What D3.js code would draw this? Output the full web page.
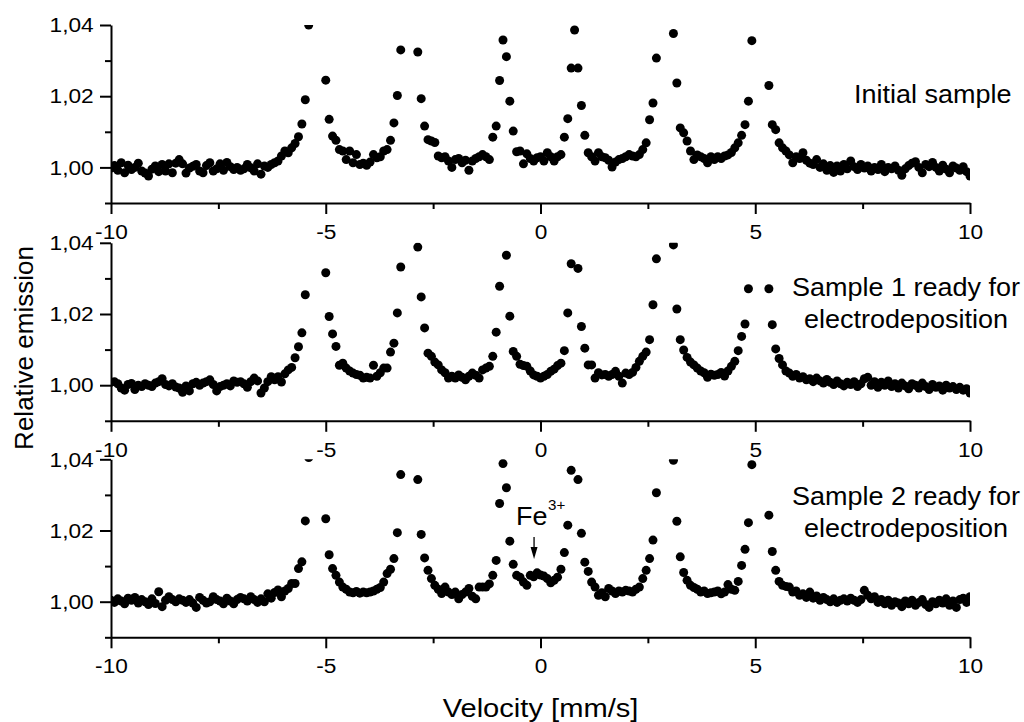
<!DOCTYPE html>
<html>
<head>
<meta charset="utf-8">
<script src="https://cdn.jsdelivr.net/npm/d3@7"></script>
<style>
  body { margin: 0; background: #fff; }
  svg { display: block; font-family: "Liberation Sans", Arial, sans-serif; }
</style>
</head>
<body>
<svg id="chart" width="1024" height="722"></svg>
<script>
// channel grid of the spectrometer (mm/s)
const velocityStart = -10, velocityStep = 20 / 252;

const initialSample = [
  0.9998,1.0005,0.9992,1.0013,0.9985,1.0006,0.9994,1.0000,1.0012,0.9990,
  0.9984,0.9976,0.9995,1.0004,0.9988,1.0008,0.9990,1.0010,0.9985,1.0012,
  1.0022,1.0010,0.9984,0.9998,1.0003,1.0008,0.9990,0.9985,1.0005,1.0013,
  0.9990,0.9996,1.0010,0.9992,1.0014,1.0002,0.9994,1.0000,0.9992,0.9996,
  1.0008,0.9999,0.9990,1.0010,0.9981,1.0004,1.0000,1.0008,1.0013,1.0018,
  1.0032,1.0046,1.0041,1.0055,1.0067,1.0086,1.0122,1.0190,1.0400,1.0520,
  1.0620,1.0600,1.0500,1.0245,1.0135,1.0088,1.0076,1.0050,1.0046,1.0022,
  1.0046,1.0013,1.0036,1.0008,1.0012,1.0006,1.0015,1.0036,1.0027,1.0030,
  1.0046,1.0050,1.0076,1.0125,1.0202,1.0330,1.0480,1.0580,1.0570,1.0470,
  1.0324,1.0193,1.0116,1.0078,1.0074,1.0070,1.0032,1.0027,1.0030,1.0018,
  1.0000,1.0022,1.0025,1.0013,1.0020,0.9992,1.0018,1.0025,1.0030,1.0036,
  1.0030,1.0022,1.0085,1.0116,1.0244,1.0358,1.0311,1.0186,1.0102,1.0044,
  1.0046,1.0010,1.0038,1.0025,1.0018,1.0027,1.0030,1.0018,1.0041,1.0030,
  1.0018,1.0030,1.0036,1.0085,1.0137,1.0279,1.0386,1.0279,1.0174,1.0090,
  1.0041,1.0030,1.0018,1.0041,1.0030,1.0027,1.0020,1.0001,1.0015,1.0022,
  1.0025,1.0030,1.0036,1.0032,1.0030,1.0036,1.0050,1.0069,1.0134,1.0181,
  1.0307,1.0500,1.0600,1.0580,1.0460,1.0376,1.0237,1.0111,1.0097,1.0074,
  1.0046,1.0022,1.0035,1.0030,1.0025,1.0013,1.0030,1.0022,1.0030,1.0025,
  1.0032,1.0035,1.0042,1.0055,1.0069,1.0090,1.0120,1.0186,1.0356,1.0520,
  1.0600,1.0560,1.0440,1.0230,1.0120,1.0106,1.0069,1.0055,1.0046,1.0035,
  1.0013,1.0030,1.0025,1.0041,1.0020,1.0012,1.0008,1.0022,1.0000,1.0010,
  0.9992,1.0005,0.9986,1.0004,0.9990,1.0008,0.9996,1.0018,1.0002,0.9994,
  1.0008,0.9998,1.0004,0.9990,1.0000,0.9994,1.0008,0.9988,1.0000,0.9996,
  1.0004,0.9992,0.9978,0.9996,1.0005,1.0012,1.0016,1.0000,0.9985,1.0008,
  1.0002,1.0014,1.0000,0.9990,1.0006,0.9995,0.9985,1.0004,0.9998,0.9992,
  1.0002,0.9988,0.9976
];

const sample1 = [
  1.0008,1.0010,1.0004,0.9992,0.9986,1.0002,1.0005,0.9988,1.0000,0.9996,
  1.0004,1.0000,0.9996,1.0006,1.0010,1.0018,1.0002,0.9998,1.0004,0.9995,
  0.9992,0.9980,0.9998,0.9984,1.0004,1.0008,1.0000,1.0006,1.0010,1.0015,
  1.0002,0.9984,0.9996,1.0000,1.0004,0.9998,1.0012,1.0008,1.0010,1.0004,
  0.9994,1.0010,1.0020,1.0012,0.9978,0.9992,1.0010,1.0024,1.0015,1.0024,
  1.0009,1.0032,1.0043,1.0050,1.0077,1.0108,1.0147,1.0254,1.0450,1.0560,
  1.0620,1.0590,1.0480,1.0316,1.0193,1.0144,1.0109,1.0056,1.0062,1.0048,
  1.0040,1.0034,1.0030,1.0028,1.0020,1.0022,1.0020,1.0056,1.0025,1.0035,
  1.0048,1.0048,1.0093,1.0118,1.0203,1.0332,1.0500,1.0600,1.0610,1.0520,
  1.0388,1.0248,1.0161,1.0090,1.0081,1.0065,1.0057,1.0043,1.0035,1.0020,
  1.0025,1.0020,1.0029,1.0022,1.0015,1.0025,1.0034,1.0028,1.0020,1.0043,
  1.0048,1.0053,1.0081,1.0149,1.0278,1.0460,1.0365,1.0194,1.0095,1.0081,
  1.0059,1.0055,1.0053,1.0040,1.0029,1.0025,1.0020,1.0025,1.0030,1.0039,
  1.0045,1.0055,1.0062,1.0097,1.0203,1.0341,1.0470,1.0328,1.0165,1.0104,
  1.0057,1.0057,1.0020,1.0035,1.0029,1.0030,1.0025,1.0030,1.0039,1.0025,
  1.0006,1.0034,1.0030,1.0036,1.0050,1.0067,1.0081,1.0093,1.0128,1.0226,
  1.0355,1.0520,1.0620,1.0600,1.0480,1.0394,1.0214,1.0128,1.0099,1.0078,
  1.0065,1.0057,1.0048,1.0040,1.0035,1.0022,1.0031,1.0028,1.0030,1.0036,
  1.0026,1.0040,1.0053,1.0067,1.0097,1.0137,1.0172,1.0271,1.0450,1.0560,
  1.0620,1.0560,1.0440,1.0271,1.0170,1.0102,1.0075,1.0057,1.0040,1.0034,
  1.0025,1.0030,1.0020,1.0024,1.0015,1.0018,1.0010,1.0020,1.0012,1.0006,
  1.0016,1.0008,1.0002,1.0012,1.0004,0.9998,1.0008,1.0002,1.0010,0.9996,
  1.0004,1.0018,1.0022,1.0000,1.0010,0.9994,1.0008,1.0000,1.0012,0.9996,
  1.0004,0.9992,1.0006,0.9998,0.9990,1.0004,1.0000,0.9992,1.0006,0.9996,
  0.9988,1.0002,0.9994,0.9998,0.9986,1.0000,0.9992,0.9996,0.9988,0.9994,
  0.9986,0.9990,0.9978
];

const sample2 = [
  1.0004,0.9998,1.0008,1.0002,0.9994,1.0010,1.0004,1.0012,0.9996,1.0006,
  1.0000,0.9992,1.0008,0.9995,1.0028,0.9986,1.0004,1.0014,1.0006,1.0000,
  1.0008,1.0004,0.9998,1.0006,0.9996,0.9984,1.0012,1.0004,0.9996,1.0000,
  1.0014,1.0006,1.0002,0.9994,1.0010,1.0002,0.9994,1.0006,1.0012,1.0008,
  1.0002,1.0014,1.0006,0.9998,1.0008,1.0000,1.0022,1.0010,1.0026,1.0033,
  1.0014,1.0030,1.0037,1.0051,1.0051,1.0093,1.0112,1.0227,1.0405,1.0520,
  1.0580,1.0560,1.0450,1.0233,1.0132,1.0093,1.0074,1.0055,1.0041,1.0035,
  1.0027,1.0025,1.0029,1.0024,1.0027,1.0025,1.0027,1.0030,1.0035,1.0040,
  1.0055,1.0079,1.0091,1.0121,1.0194,1.0357,1.0520,1.0620,1.0600,1.0500,
  1.0343,1.0189,1.0123,1.0088,1.0065,1.0046,1.0035,1.0023,1.0041,1.0027,
  1.0020,1.0027,1.0008,1.0020,1.0027,1.0037,1.0015,1.0008,1.0041,1.0041,
  1.0041,1.0050,1.0074,1.0116,1.0276,1.0388,1.0320,1.0170,1.0105,1.0074,
  1.0069,1.0055,1.0046,1.0074,1.0070,1.0081,1.0075,1.0072,1.0065,1.0053,
  1.0060,1.0069,1.0091,1.0138,1.0215,1.0369,1.0480,1.0343,1.0192,1.0111,
  1.0085,1.0055,1.0041,1.0018,1.0025,1.0014,1.0037,1.0030,1.0023,1.0030,
  1.0027,1.0032,1.0030,1.0027,1.0035,1.0041,1.0065,1.0088,1.0121,1.0173,
  1.0306,1.0500,1.0600,1.0600,1.0490,1.0397,1.0226,1.0126,1.0082,1.0060,
  1.0046,1.0040,1.0035,1.0027,1.0030,1.0023,1.0025,1.0027,1.0030,1.0022,
  1.0027,1.0048,1.0035,1.0032,1.0057,1.0102,1.0147,1.0222,1.0385,1.0540,
  1.0620,1.0580,1.0460,1.0243,1.0141,1.0088,1.0057,1.0046,1.0043,1.0041,
  1.0027,1.0030,1.0018,1.0022,1.0012,1.0027,1.0010,1.0016,1.0004,1.0012,
  1.0006,1.0000,1.0008,0.9998,1.0004,1.0008,1.0002,1.0010,1.0004,0.9998,
  1.0006,1.0032,1.0018,1.0008,1.0014,0.9998,1.0006,0.9994,1.0004,0.9990,
  1.0000,0.9996,0.9986,1.0002,0.9994,1.0004,0.9990,0.9998,1.0006,0.9992,
  0.9984,1.0000,0.9994,1.0004,0.9996,1.0008,0.9990,1.0002,0.9984,1.0006,
  1.0010,0.9998,1.0014
];

const spectra = [initialSample, sample1, sample2];
const panelLabels = [
  ["Initial sample"],
  ["Sample 1 ready for", "electrodeposition"],
  ["Sample 2 ready for", "electrodeposition"]
];
const xMajorTicks = [-10, -5, 0, 5, 10];
const xMinorTicks = [-7.5, -2.5, 2.5, 7.5];
const yMajorTicks = [1.00, 1.02, 1.04];
const yMinorTicks = [0.99, 1.01, 1.03];
const yDomain = [0.99, 1.04];

// layout
const left = 111, right = 970, panelHeight = 178;
const panelTops = [25, 242.8, 459.3];
const stretch = 1.08;   // glyphs in the original are a bit wide

const svg = d3.select("#chart");
const xScale = d3.scaleLinear().domain([-10, 10]).range([left, right]);
const commaFmt = d => d3.format(".2f")(d).replace(".", ",");
const plainFmt = d => String(d);   // keeps the ASCII hyphen for negatives

function styleAxis(g) {
  g.selectAll("path, line").attr("stroke", "#000").attr("stroke-width", 2);
  g.selectAll("text")
    .attr("fill", "#000")
    .style("font-size", "21px")
    .style("font-family", '"Liberation Sans", Arial, sans-serif');
}

function addText(x, y, str, size, anchor) {
  return svg.append("text")
    .attr("transform", `translate(${x},${y}) scale(${stretch},1)`)
    .attr("text-anchor", anchor || "start")
    .style("font-size", size + "px")
    .attr("fill", "#000")
    .text(str);
}

spectra.forEach((values, p) => {
  const top = panelTops[p];
  const bottom = top + panelHeight;
  const yScale = d3.scaleLinear().domain(yDomain).range([bottom, top]);

  svg.append("clipPath").attr("id", "clip" + p)
    .append("rect")
    .attr("x", left).attr("y", top)
    .attr("width", right - left).attr("height", panelHeight);

  const points = values.map((y, i) => ({ v: velocityStart + i * velocityStep, y }));

  svg.append("g").attr("clip-path", `url(#clip${p})`)
    .selectAll("circle").data(points).enter()
    .append("circle")
    .attr("cx", d => xScale(d.v))
    .attr("cy", d => yScale(d.y))
    .attr("r", 4.5)
    .attr("fill", "#000");

  // x axis
  const xg = svg.append("g").attr("transform", `translate(0,${bottom})`)
    .call(d3.axisBottom(xScale).tickValues(xMajorTicks).tickSize(11).tickSizeOuter(0)
      .tickPadding(10).tickFormat(plainFmt));
  styleAxis(xg);
  xg.selectAll("text").attr("transform", `scale(${stretch},1)`);
  const xm = svg.append("g").attr("transform", `translate(0,${bottom})`)
    .call(d3.axisBottom(xScale).tickValues(xMinorTicks).tickSize(6).tickFormat(""));
  xm.select(".domain").remove();
  styleAxis(xm);

  // y axis
  const yg = svg.append("g").attr("transform", `translate(${left},0)`)
    .call(d3.axisLeft(yScale).tickValues(yMajorTicks).tickSize(11).tickSizeOuter(0)
      .tickPadding(5).tickFormat(commaFmt));
  styleAxis(yg);
  yg.selectAll("text").attr("transform", `scale(${stretch},1)`);
  const ym = svg.append("g").attr("transform", `translate(${left},0)`)
    .call(d3.axisLeft(yScale).tickValues(yMinorTicks).tickSize(6).tickFormat(""));
  ym.select(".domain").remove();
  styleAxis(ym);
});

// panel labels
addText(854, 103, panelLabels[0][0], 25);
addText(906, 296, panelLabels[1][0], 25, "middle");
addText(906, 328, panelLabels[1][1], 25, "middle");
addText(906, 505, panelLabels[2][0], 25, "middle");
addText(906, 537, panelLabels[2][1], 25, "middle");

// Fe3+ annotation
addText(516, 525, "Fe", 25);
addText(548, 510, "3+", 14);
const arrowX = xScale(-0.15);
svg.append("line")
  .attr("x1", arrowX).attr("x2", arrowX)
  .attr("y1", 537).attr("y2", 550)
  .attr("stroke", "#000").attr("stroke-width", 1.3);
svg.append("path")
  .attr("d", `M${arrowX - 3.5},547 L${arrowX + 3.5},547 L${arrowX},559 Z`)
  .attr("fill", "#000");

// axis titles
svg.append("text")
  .attr("transform", `translate(${(left + right) / 2},717) scale(1.12,1)`)
  .attr("text-anchor", "middle")
  .style("font-size", "26px")
  .text("Velocity [mm/s]");

svg.append("text")
  .attr("transform", "translate(33,348) rotate(-90)")
  .attr("text-anchor", "middle")
  .style("font-size", "26px")
  .text("Relative emission");
</script>
</body>
</html>
